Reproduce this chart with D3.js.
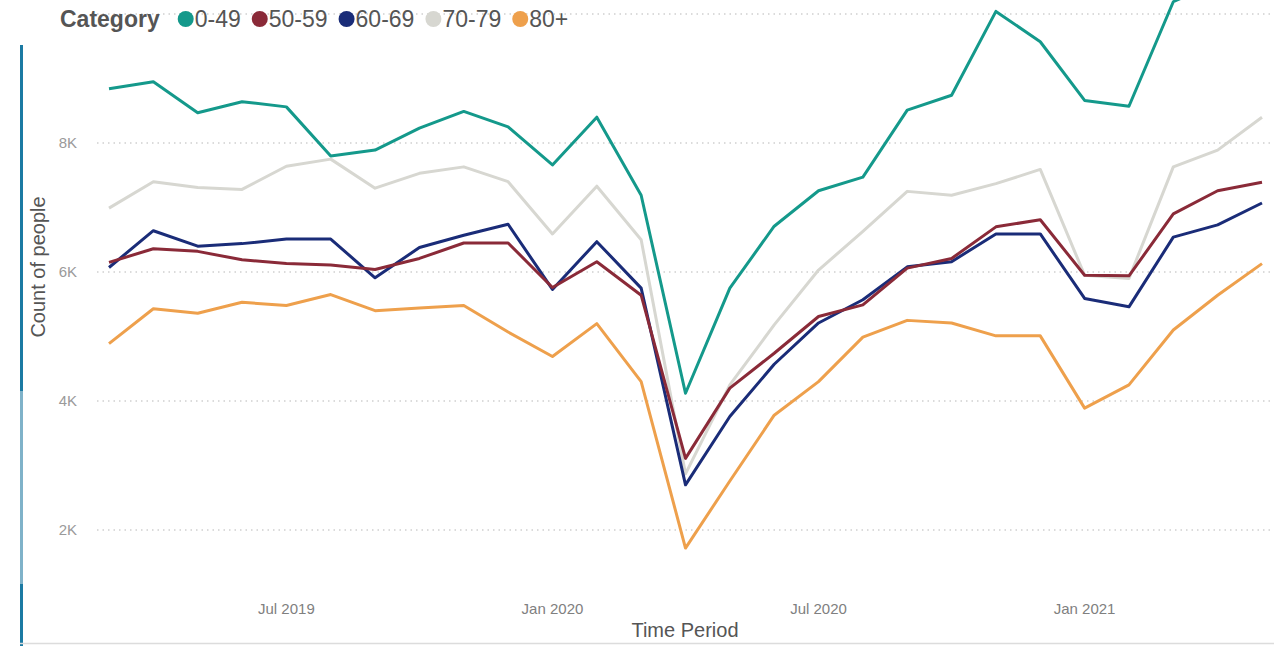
<!DOCTYPE html>
<html lang="en">
<head>
    <meta charset="UTF-8">
    <title>Count of people by category</title>
    <script src="https://d3js.org/d3.v7.min.js"></script>
    <style>
        body { margin: 0; background: #fff; }
        svg { display: block; font-family: "Liberation Sans", Arial, sans-serif; }
    </style>
</head>
<body>
    <div id="container"></div>
</body>
<script>
    // months Mar 2019 .. May 2021
    var months = ["2019-03","2019-04","2019-05","2019-06","2019-07","2019-08","2019-09","2019-10","2019-11","2019-12",
                  "2020-01","2020-02","2020-03","2020-04","2020-05","2020-06","2020-07","2020-08","2020-09","2020-10",
                  "2020-11","2020-12","2021-01","2021-02","2021-03","2021-04","2021-05"];

    var categories = ["0-49", "50-59", "60-69", "70-79", "80+"];
    var colors = ["#14998b", "#8a2a38", "#1a2c78", "#d7d7d1", "#eea04c"];

    var age0_49  = [8840, 8950, 8470, 8640, 8560, 7800, 7890, 8230, 8490, 8250, 7660, 8400, 7190, 4120, 5750, 6710, 7260, 7470, 8510, 8740, 10040, 9570, 8660, 8570, 10190, 10500, 10750];
    var age50_59 = [6150, 6360, 6320, 6190, 6130, 6110, 6040, 6210, 6450, 6450, 5760, 6160, 5640, 3110, 4200, 4740, 5310, 5490, 6060, 6210, 6700, 6810, 5950, 5940, 6900, 7260, 7390];
    var age60_69 = [6070, 6640, 6400, 6440, 6510, 6510, 5910, 6380, 6570, 6740, 5730, 6470, 5750, 2700, 3760, 4570, 5210, 5570, 6080, 6160, 6590, 6590, 5590, 5460, 6540, 6730, 7070];
    var age70_79 = [6990, 7400, 7310, 7280, 7640, 7750, 7300, 7530, 7630, 7400, 6590, 7330, 6500, 2870, 4250, 5180, 6030, 6630, 7250, 7190, 7370, 7590, 5950, 5900, 7630, 7890, 8400];
    var age80    = [4890, 5430, 5360, 5530, 5480, 5650, 5400, 5440, 5480, 5070, 4690, 5200, 4300, 1720, 2760, 3780, 4300, 4990, 5250, 5210, 5010, 5010, 3890, 4250, 5100, 5640, 6130];

    var yTicks = [2000, 4000, 6000, 8000, 10000];
    var xTicks = ["2019-07", "2020-01", "2020-07", "2021-01"];

    var series = [age0_49, age50_59, age60_69, age70_79, age80];

    var width = 1274, height = 646;
    var parse = d3.timeParse("%Y-%m");

    // one step per month, evenly spaced like the original
    var x = d3.scalePoint()
        .domain(months)
        .range([109, 1262]);
    var y = d3.scaleLinear()
        .domain([0, 10000])
        .range([659, 14]);

    var svg = d3.select("#container").append("svg")
        .attr("width", width).attr("height", height);

    // left accent bar
    var bar = svg.append("g");
    bar.append("rect").attr("x", 20).attr("y", 45).attr("width", 3).attr("height", 346).attr("fill", "#1b7aa3");
    bar.append("rect").attr("x", 20).attr("y", 391).attr("width", 3).attr("height", 193).attr("fill", "#7fb2c9");
    bar.append("rect").attr("x", 20).attr("y", 584).attr("width", 3).attr("height", 62).attr("fill", "#1b7aa3");

    // bottom rule
    svg.append("line")
        .attr("x1", 20).attr("x2", width)
        .attr("y1", 643.5).attr("y2", 643.5)
        .attr("stroke", "#dcdcdc").attr("stroke-width", 1.5);

    // gridlines + y labels
    var yAxis = svg.append("g");
    yAxis.selectAll("line")
        .data(yTicks)
        .join("line")
        .attr("x1", 97).attr("x2", width)
        .attr("y1", d => y(d)).attr("y2", d => y(d))
        .attr("stroke", "#d0d0d0")
        .attr("stroke-width", 1.3)
        .attr("stroke-dasharray", "1.5,4");
    yAxis.selectAll("text")
        .data(yTicks.filter(d => d < 10000))
        .join("text")
        .attr("x", 77)
        .attr("y", d => y(d))
        .attr("dy", "0.36em")
        .attr("text-anchor", "end")
        .attr("font-size", 15)
        .attr("fill", "#9a9a9a")
        .text(d => d3.format("~s")(d).replace("k", "K"));

    svg.append("text")
        .attr("transform", "translate(45,267) rotate(-90)")
        .attr("text-anchor", "middle")
        .attr("font-size", 20)
        .attr("fill", "#555")
        .text("Count of people");

    // x labels
    svg.append("g").selectAll("text")
        .data(xTicks)
        .join("text")
        .attr("x", d => x(d))
        .attr("y", 614)
        .attr("text-anchor", "middle")
        .attr("font-size", 15)
        .attr("fill", "#808080")
        .text(d => d3.timeFormat("%b %Y")(parse(d)));

    svg.append("text")
        .attr("x", 685).attr("y", 637)
        .attr("text-anchor", "middle")
        .attr("font-size", 20)
        .attr("fill", "#555")
        .text("Time Period");

    // lines
    var line = d3.line()
        .x((d, i) => x(months[i]))
        .y(d => y(d));

    svg.append("g")
        .attr("fill", "none")
        .attr("stroke-width", 3)
        .attr("stroke-linejoin", "round")
        .selectAll("path")
        .data(series.map((s, i) => ({ values: s, color: colors[i] })).reverse())
        .join("path")
        .attr("stroke", d => d.color)
        .attr("d", d => line(d.values));

    // legend
    var legend = svg.append("g").attr("font-size", 23);
    var title = legend.append("text")
        .attr("x", 60).attr("y", 27)
        .attr("font-weight", "bold")
        .attr("fill", "#555")
        .text("Category");
    var lx = 60 + title.node().getComputedTextLength() + 18;
    categories.forEach((c, i) => {
        legend.append("circle")
            .attr("cx", lx + 8).attr("cy", 19).attr("r", 8)
            .attr("fill", colors[i]);
        var t = legend.append("text")
            .attr("x", lx + 17).attr("y", 27)
            .attr("fill", "#555")
            .text(c);
        lx += 17 + t.node().getComputedTextLength() + 11;
    });
</script>
</html>
